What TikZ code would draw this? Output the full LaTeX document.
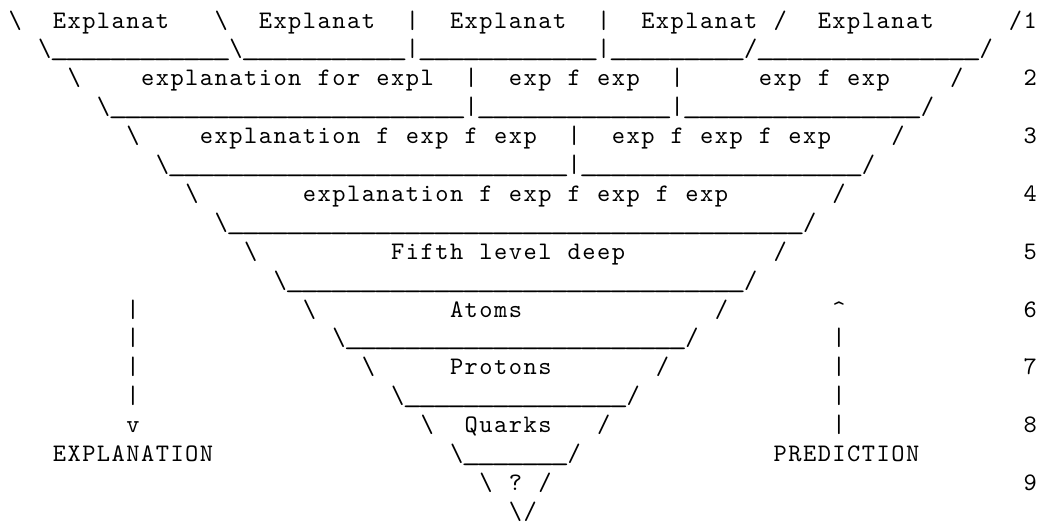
\documentclass[tikz,border=0pt]{standalone}
\usepackage{fontspec}
\usepackage{graphicx}
\newfontfamily\asciiface{lmmono10-regular.otf}
\newdimen\cw \cw=7.355pt
\newcommand\asciifont{\asciiface\fontsize{12.6pt}{14.45pt}\selectfont}
\newcommand\myS[1]{\kern#1\cw\relax}
\newcommand\bs{\makebox[\cw]{\textbackslash}}
\newcommand\mycaret{\makebox[\cw]{\textasciicircum}}
\ExplSyntaxOn
\cs_new_protected:Npn \W #1 { \tl_map_inline:nn {#1} { \makebox[\cw]{##1} } }
\cs_new_protected:Npn \myU #1 { \prg_replicate:nn {#1} { \makebox[\cw]{\scalebox{1.5}[1]{\textunderscore}} } }
\ExplSyntaxOff
\tikzset{asc/.style={anchor=base west, inner sep=0pt, outer sep=0pt, font=\asciifont}}
\begin{document}
\begin{tikzpicture}[x=1pt,y=1pt]
\useasboundingbox (0,0) rectangle (520,-265.5);
\node[asc] (l1) at (4,-14) {\bs\myS{2}\W{Explanat}\myS{3}\bs\myS{2}\W{Explanat}\myS{2}\W{|}\myS{2}\W{Explanat}\myS{2}\W{|}\myS{2}\W{Explanat}\myS{1}\W{/}\myS{2}\W{Explanat}\myS{5}\W{/1}};
\node[asc] (l2) at (4,-28.45) {\myS{2}\bs\myU{12}\bs\myU{11}\W{|}\myU{12}\W{|}\myU{9}\W{/}\myU{15}\W{/}};
\node[asc] (l3) at (4,-42.9) {\myS{4}\bs\myS{4}\W{explanation}\myS{1}\W{for}\myS{1}\W{expl}\myS{2}\W{|}\myS{2}\W{exp}\myS{1}\W{f}\myS{1}\W{exp}\myS{2}\W{|}\myS{5}\W{exp}\myS{1}\W{f}\myS{1}\W{exp}\myS{4}\W{/}\myS{4}\W{2}};
\node[asc] (l4) at (4,-57.35) {\myS{6}\bs\myU{24}\W{|}\myU{13}\W{|}\myU{16}\W{/}};
\node[asc] (l5) at (4,-71.8) {\myS{8}\bs\myS{4}\W{explanation}\myS{1}\W{f}\myS{1}\W{exp}\myS{1}\W{f}\myS{1}\W{exp}\myS{2}\W{|}\myS{2}\W{exp}\myS{1}\W{f}\myS{1}\W{exp}\myS{1}\W{f}\myS{1}\W{exp}\myS{4}\W{/}\myS{8}\W{3}};
\node[asc] (l6) at (4,-86.25) {\myS{10}\bs\myU{27}\W{|}\myU{19}\W{/}};
\node[asc] (l7) at (4,-100.7) {\myS{12}\bs\myS{7}\W{explanation}\myS{1}\W{f}\myS{1}\W{exp}\myS{1}\W{f}\myS{1}\W{exp}\myS{1}\W{f}\myS{1}\W{exp}\myS{7}\W{/}\myS{12}\W{4}};
\node[asc] (l8) at (4,-115.15) {\myS{14}\bs\myU{39}\W{/}};
\node[asc] (l9) at (4,-129.6) {\myS{16}\bs\myS{9}\W{Fifth}\myS{1}\W{level}\myS{1}\W{deep}\myS{10}\W{/}\myS{16}\W{5}};
\node[asc] (l10) at (4,-144.05) {\myS{18}\bs\myU{31}\W{/}};
\node[asc] (l11) at (4,-158.5) {\myS{8}\W{|}\myS{11}\bs\myS{9}\W{Atoms}\myS{13}\W{/}\myS{7}\mycaret\myS{12}\W{6}};
\node[asc] (l12) at (4,-172.95) {\myS{8}\W{|}\myS{13}\bs\myU{23}\W{/}\myS{9}\W{|}};
\node[asc] (l13) at (4,-187.4) {\myS{8}\W{|}\myS{15}\bs\myS{5}\W{Protons}\myS{7}\W{/}\myS{11}\W{|}\myS{12}\W{7}};
\node[asc] (l14) at (4,-201.85) {\myS{8}\W{|}\myS{17}\bs\myU{15}\W{/}\myS{13}\W{|}};
\node[asc] (l15) at (4,-216.3) {\myS{8}\W{v}\myS{19}\bs\myS{2}\W{Quarks}\myS{3}\W{/}\myS{15}\W{|}\myS{12}\W{8}};
\node[asc] (l16) at (4,-230.75) {\myS{3}\W{EXPLANATION}\myS{16}\bs\myU{7}\W{/}\myS{13}\W{PREDICTION}};
\node[asc] (l17) at (4,-245.2) {\myS{32}\bs\myS{1}\W{?}\myS{1}\W{/}\myS{32}\W{9}};
\node[asc] (l18) at (4,-259.65) {\myS{34}\bs\W{/}};
\end{tikzpicture}
\end{document}
